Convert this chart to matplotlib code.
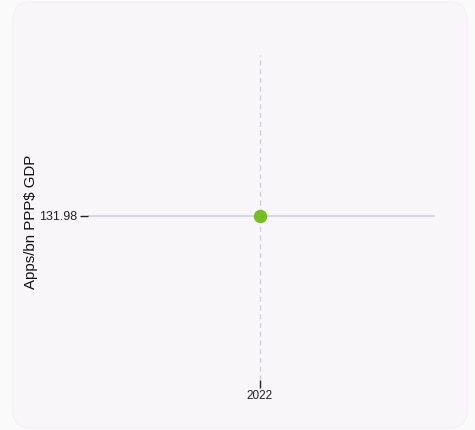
import matplotlib.pyplot as plt
from matplotlib.patches import FancyBboxPatch

plt.rcParams['font.family'] = ['Liberation Sans', 'DejaVu Sans']

years = [2022]
values = [131.98]
ytick_labels = ['131.98']

fig = plt.figure(figsize=(4.75, 4.3), dpi=100)
fig.patch.set_facecolor('#fbfafb')

# card background in its own axes behind everything
bg = fig.add_axes([0, 0, 1, 1], zorder=-1)
bg.set_xlim(0, 475)
bg.set_ylim(430, 0)
bg.axis('off')
bg.add_patch(FancyBboxPatch((13, 2), 454, 426,
                            boxstyle='round,pad=0,rounding_size=18',
                            facecolor='#f8f6f8', edgecolor='#f3f1f3',
                            linewidth=0.8))

ax = fig.add_axes([88 / 475, 1 - 380 / 430, 347 / 475, 325 / 430])
ax.set_facecolor('none')
for s in ax.spines.values():
    s.set_visible(False)

ax.set_xlim(years[0] - 1, years[0] + 1.02)
ax.set_ylim(values[0] - 1.01, values[0] + 0.99)

ax.axhline(values[0], color='#cfd3da', linewidth=1.2, zorder=1)
ax.axvline(years[0], color='#c8d0dc', linewidth=0.9, linestyle=(0, (4, 3)), zorder=1)
ax.scatter(years, values, s=75, color='#78bd27', zorder=3)

ax.set_xticks(years)
ax.set_xticklabels([str(y) for y in years], fontsize=8.5, color='#222222')
ax.set_yticks(values)
ax.set_yticklabels(ytick_labels, fontsize=9, color='#222222')
ax.tick_params(axis='x', length=6, width=1, color='#222222', pad=1)
ax.tick_params(axis='y', length=6, width=1, color='#222222', pad=2)

fig.text(31 / 475, 1 - 222 / 430, 'Apps/bn PPP$ GDP', rotation=90,
         ha='center', va='center', fontsize=10.8, color='#111111')

fig.savefig('out.png', dpi=100, facecolor=fig.get_facecolor())
